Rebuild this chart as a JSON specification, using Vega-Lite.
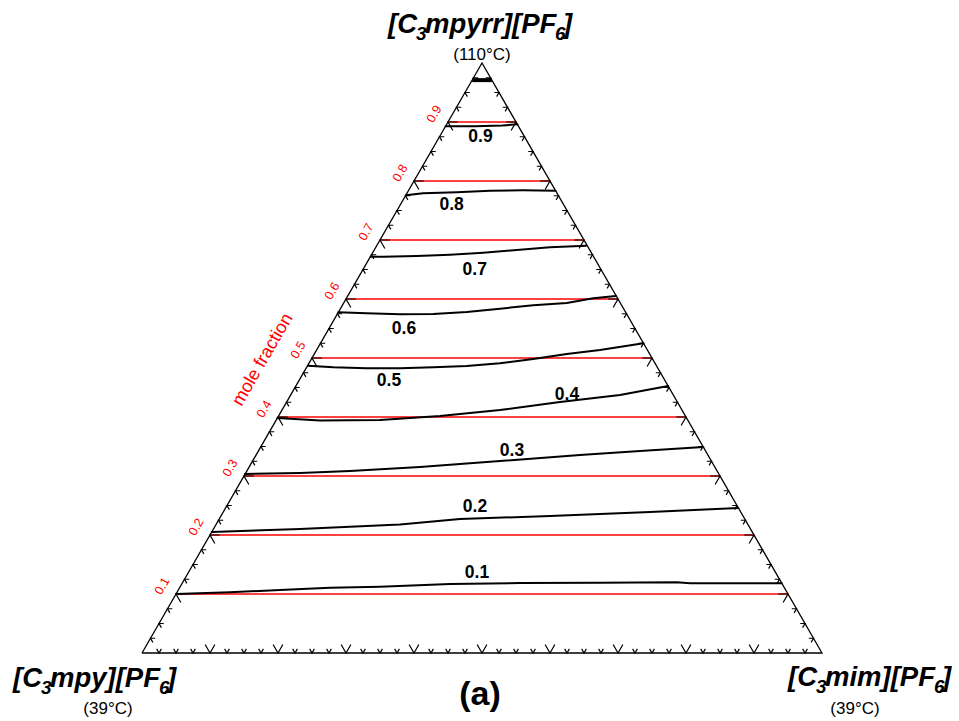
{
  "$schema": "https://vega.github.io/schema/vega-lite/v6.json",
  "width": 680,
  "height": 590,
  "autosize": {"type": "none"},
  "padding": {"left": 142, "top": 63, "right": 137, "bottom": 68},
  "background": "white",
  "config": {"view": {"stroke": null}, "font": "Liberation Sans"},
  "resolve": {"scale": {"size": "independent"}},
  "datasets": {
    "outline": [
      {"i": 0, "x": 0, "f": 0},
      {"i": 1, "x": 1, "f": 0},
      {"i": 2, "x": 0.5, "f": 1},
      {"i": 3, "x": 0, "f": 0}
    ],
    "levels": [
      {"f": 0.1, "xl": 0.05, "xr": 0.95},
      {"f": 0.2, "xl": 0.1, "xr": 0.9},
      {"f": 0.3, "xl": 0.15, "xr": 0.85},
      {"f": 0.4, "xl": 0.2, "xr": 0.8},
      {"f": 0.5, "xl": 0.25, "xr": 0.75},
      {"f": 0.6, "xl": 0.3, "xr": 0.7},
      {"f": 0.7, "xl": 0.35, "xr": 0.65},
      {"f": 0.8, "xl": 0.4, "xr": 0.6},
      {"f": 0.9, "xl": 0.45, "xr": 0.55}
    ],
    "isolines": [
      {"level": "0.1", "i": 0, "x": 0.05, "f": 0.1},
      {"level": "0.1", "i": 1, "x": 0.1294, "f": 0.1029},
      {"level": "0.1", "i": 2, "x": 0.2029, "f": 0.1068},
      {"level": "0.1", "i": 3, "x": 0.2765, "f": 0.1107},
      {"level": "0.1", "i": 4, "x": 0.35, "f": 0.1124},
      {"level": "0.1", "i": 5, "x": 0.4529, "f": 0.117},
      {"level": "0.1", "i": 6, "x": 0.5559, "f": 0.1186},
      {"level": "0.1", "i": 7, "x": 0.6735, "f": 0.1192},
      {"level": "0.1", "i": 8, "x": 0.7863, "f": 0.1198},
      {"level": "0.1", "i": 9, "x": 0.8059, "f": 0.1181},
      {"level": "0.1", "i": 10, "x": 0.9407, "f": 0.1181},
      {"level": "0.2", "i": 0, "x": 0.1025, "f": 0.205},
      {"level": "0.2", "i": 1, "x": 0.2324, "f": 0.2102},
      {"level": "0.2", "i": 2, "x": 0.3794, "f": 0.2178},
      {"level": "0.2", "i": 3, "x": 0.4676, "f": 0.2271},
      {"level": "0.2", "i": 4, "x": 0.6, "f": 0.2322},
      {"level": "0.2", "i": 5, "x": 0.7471, "f": 0.239},
      {"level": "0.2", "i": 6, "x": 0.877, "f": 0.2458},
      {"level": "0.3", "i": 0, "x": 0.1515, "f": 0.3034},
      {"level": "0.3", "i": 1, "x": 0.2324, "f": 0.3051},
      {"level": "0.3", "i": 2, "x": 0.3059, "f": 0.3085},
      {"level": "0.3", "i": 3, "x": 0.4088, "f": 0.3153},
      {"level": "0.3", "i": 4, "x": 0.5265, "f": 0.3254},
      {"level": "0.3", "i": 5, "x": 0.6441, "f": 0.3356},
      {"level": "0.3", "i": 6, "x": 0.7324, "f": 0.3424},
      {"level": "0.3", "i": 7, "x": 0.8254, "f": 0.349},
      {"level": "0.4", "i": 0, "x": 0.1992, "f": 0.3983},
      {"level": "0.4", "i": 1, "x": 0.2618, "f": 0.3941},
      {"level": "0.4", "i": 2, "x": 0.35, "f": 0.3949},
      {"level": "0.4", "i": 3, "x": 0.4382, "f": 0.4017},
      {"level": "0.4", "i": 4, "x": 0.5265, "f": 0.4119},
      {"level": "0.4", "i": 5, "x": 0.6147, "f": 0.4254},
      {"level": "0.4", "i": 6, "x": 0.7029, "f": 0.4373},
      {"level": "0.4", "i": 7, "x": 0.7737, "f": 0.4525},
      {"level": "0.5", "i": 0, "x": 0.2441, "f": 0.4869},
      {"level": "0.5", "i": 1, "x": 0.2813, "f": 0.4842},
      {"level": "0.5", "i": 2, "x": 0.3304, "f": 0.4825},
      {"level": "0.5", "i": 3, "x": 0.3794, "f": 0.4825},
      {"level": "0.5", "i": 4, "x": 0.4284, "f": 0.4842},
      {"level": "0.5", "i": 5, "x": 0.4775, "f": 0.4864},
      {"level": "0.5", "i": 6, "x": 0.5265, "f": 0.491},
      {"level": "0.5", "i": 7, "x": 0.5754, "f": 0.4983},
      {"level": "0.5", "i": 8, "x": 0.6246, "f": 0.5068},
      {"level": "0.5", "i": 9, "x": 0.6735, "f": 0.5136},
      {"level": "0.5", "i": 10, "x": 0.7375, "f": 0.5249},
      {"level": "0.6", "i": 0, "x": 0.2887, "f": 0.5775},
      {"level": "0.6", "i": 1, "x": 0.3304, "f": 0.5758},
      {"level": "0.6", "i": 2, "x": 0.3794, "f": 0.5741},
      {"level": "0.6", "i": 3, "x": 0.4284, "f": 0.5746},
      {"level": "0.6", "i": 4, "x": 0.4775, "f": 0.578},
      {"level": "0.6", "i": 5, "x": 0.5265, "f": 0.5836},
      {"level": "0.6", "i": 6, "x": 0.5754, "f": 0.5893},
      {"level": "0.6", "i": 7, "x": 0.6246, "f": 0.5932},
      {"level": "0.6", "i": 8, "x": 0.6637, "f": 0.6012},
      {"level": "0.6", "i": 9, "x": 0.6971, "f": 0.6051},
      {"level": "0.7", "i": 0, "x": 0.3363, "f": 0.6717},
      {"level": "0.7", "i": 1, "x": 0.3549, "f": 0.6717},
      {"level": "0.7", "i": 2, "x": 0.404, "f": 0.6729},
      {"level": "0.7", "i": 3, "x": 0.4529, "f": 0.6751},
      {"level": "0.7", "i": 4, "x": 0.5019, "f": 0.6785},
      {"level": "0.7", "i": 5, "x": 0.551, "f": 0.6831},
      {"level": "0.7", "i": 6, "x": 0.6, "f": 0.6876},
      {"level": "0.7", "i": 7, "x": 0.6529, "f": 0.6903},
      {"level": "0.8", "i": 0, "x": 0.388, "f": 0.776},
      {"level": "0.8", "i": 1, "x": 0.4132, "f": 0.7792},
      {"level": "0.8", "i": 2, "x": 0.4628, "f": 0.7808},
      {"level": "0.8", "i": 3, "x": 0.5118, "f": 0.7836},
      {"level": "0.8", "i": 4, "x": 0.5603, "f": 0.7842},
      {"level": "0.8", "i": 5, "x": 0.6082, "f": 0.7836},
      {"level": "0.9", "i": 0, "x": 0.4465, "f": 0.893},
      {"level": "0.9", "i": 1, "x": 0.49, "f": 0.893},
      {"level": "0.9", "i": 2, "x": 0.53, "f": 0.894},
      {"level": "0.9", "i": 3, "x": 0.552, "f": 0.896}
    ],
    "cap": [
      {"i": 0, "x": 0.4855, "f": 0.971},
      {"i": 1, "x": 0.5145, "f": 0.971}
    ],
    "isolineLabels": [
      {"label": "0.1", "x": 0.4926, "f": 0.1356},
      {"label": "0.2", "x": 0.4897, "f": 0.2475},
      {"label": "0.3", "x": 0.5441, "f": 0.3424},
      {"label": "0.4", "x": 0.625, "f": 0.4373},
      {"label": "0.5", "x": 0.3632, "f": 0.461},
      {"label": "0.6", "x": 0.3853, "f": 0.5492},
      {"label": "0.7", "x": 0.4893, "f": 0.6492},
      {"label": "0.8", "x": 0.4554, "f": 0.7593},
      {"label": "0.9", "x": 0.4978, "f": 0.8746}
    ],
    "axisLabels": [
      {"label": "0.1", "x": 0.05, "f": 0.1},
      {"label": "0.2", "x": 0.1, "f": 0.2},
      {"label": "0.3", "x": 0.15, "f": 0.3},
      {"label": "0.4", "x": 0.2, "f": 0.4},
      {"label": "0.5", "x": 0.25, "f": 0.5},
      {"label": "0.6", "x": 0.3, "f": 0.6},
      {"label": "0.7", "x": 0.35, "f": 0.7},
      {"label": "0.8", "x": 0.4, "f": 0.8},
      {"label": "0.9", "x": 0.45, "f": 0.9}
    ],
    "axisTitle": [
      {"title": "mole fraction", "x": 0.178, "f": 0.497}
    ],
    "vertexNames": [
      {"t": "[C", "p": "main", "x": 0.36176, "f": 1.05085},
      {"t": "3", "p": "sub", "x": 0.40294, "f": 1.03898},
      {"t": "mpyrr][PF", "p": "main", "x": 0.41618, "f": 1.05085},
      {"t": "6", "p": "sub", "x": 0.60735, "f": 1.03898},
      {"t": "]", "p": "main", "x": 0.61912, "f": 1.05085},
      {"t": "[C", "p": "main", "x": -0.18971, "f": -0.05763},
      {"t": "3", "p": "sub", "x": -0.14853, "f": -0.06949},
      {"t": "mpy][PF", "p": "main", "x": -0.13529, "f": -0.05763},
      {"t": "6", "p": "sub", "x": 0.025, "f": -0.06949},
      {"t": "]", "p": "main", "x": 0.03676, "f": -0.05763},
      {"t": "[C", "p": "main", "x": 0.95, "f": -0.05593},
      {"t": "3", "p": "sub", "x": 0.99118, "f": -0.0678},
      {"t": "mim][PF", "p": "main", "x": 1.00441, "f": -0.05593},
      {"t": "6", "p": "sub", "x": 1.16471, "f": -0.0678},
      {"t": "]", "p": "main", "x": 1.17647, "f": -0.05593}
    ],
    "meltingPoints": [
      {"temp": "(110°C)", "x": 0.5, "f": 1.005},
      {"temp": "(39°C)", "x": -0.05, "f": -0.1034},
      {"temp": "(39°C)", "x": 1.0485, "f": -0.1034}
    ],
    "panel": [
      {"panel": "(a)", "x": 0.497, "f": -0.0881}
    ],
    "ticks": [
      {"e": "bottom", "k": "minor", "x": 0.025, "f": 0},
      {"e": "bottom", "k": "minor", "x": 0.05, "f": 0},
      {"e": "bottom", "k": "minor", "x": 0.075, "f": 0},
      {"e": "bottom", "k": "major", "x": 0.1, "f": 0},
      {"e": "bottom", "k": "minor", "x": 0.125, "f": 0},
      {"e": "bottom", "k": "minor", "x": 0.15, "f": 0},
      {"e": "bottom", "k": "minor", "x": 0.175, "f": 0},
      {"e": "bottom", "k": "major", "x": 0.2, "f": 0},
      {"e": "bottom", "k": "minor", "x": 0.225, "f": 0},
      {"e": "bottom", "k": "minor", "x": 0.25, "f": 0},
      {"e": "bottom", "k": "minor", "x": 0.275, "f": 0},
      {"e": "bottom", "k": "major", "x": 0.3, "f": 0},
      {"e": "bottom", "k": "minor", "x": 0.325, "f": 0},
      {"e": "bottom", "k": "minor", "x": 0.35, "f": 0},
      {"e": "bottom", "k": "minor", "x": 0.375, "f": 0},
      {"e": "bottom", "k": "major", "x": 0.4, "f": 0},
      {"e": "bottom", "k": "minor", "x": 0.425, "f": 0},
      {"e": "bottom", "k": "minor", "x": 0.45, "f": 0},
      {"e": "bottom", "k": "minor", "x": 0.475, "f": 0},
      {"e": "bottom", "k": "major", "x": 0.5, "f": 0},
      {"e": "bottom", "k": "minor", "x": 0.525, "f": 0},
      {"e": "bottom", "k": "minor", "x": 0.55, "f": 0},
      {"e": "bottom", "k": "minor", "x": 0.575, "f": 0},
      {"e": "bottom", "k": "major", "x": 0.6, "f": 0},
      {"e": "bottom", "k": "minor", "x": 0.625, "f": 0},
      {"e": "bottom", "k": "minor", "x": 0.65, "f": 0},
      {"e": "bottom", "k": "minor", "x": 0.675, "f": 0},
      {"e": "bottom", "k": "major", "x": 0.7, "f": 0},
      {"e": "bottom", "k": "minor", "x": 0.725, "f": 0},
      {"e": "bottom", "k": "minor", "x": 0.75, "f": 0},
      {"e": "bottom", "k": "minor", "x": 0.775, "f": 0},
      {"e": "bottom", "k": "major", "x": 0.8, "f": 0},
      {"e": "bottom", "k": "minor", "x": 0.825, "f": 0},
      {"e": "bottom", "k": "minor", "x": 0.85, "f": 0},
      {"e": "bottom", "k": "minor", "x": 0.875, "f": 0},
      {"e": "bottom", "k": "major", "x": 0.9, "f": 0},
      {"e": "bottom", "k": "minor", "x": 0.925, "f": 0},
      {"e": "bottom", "k": "minor", "x": 0.95, "f": 0},
      {"e": "bottom", "k": "minor", "x": 0.975, "f": 0},
      {"e": "left", "k": "minor", "x": 0.0125, "f": 0.025},
      {"e": "left", "k": "minor", "x": 0.025, "f": 0.05},
      {"e": "left", "k": "minor", "x": 0.0375, "f": 0.075},
      {"e": "left", "k": "major", "x": 0.05, "f": 0.1},
      {"e": "left", "k": "minor", "x": 0.0625, "f": 0.125},
      {"e": "left", "k": "minor", "x": 0.075, "f": 0.15},
      {"e": "left", "k": "minor", "x": 0.0875, "f": 0.175},
      {"e": "left", "k": "major", "x": 0.1, "f": 0.2},
      {"e": "left", "k": "minor", "x": 0.1125, "f": 0.225},
      {"e": "left", "k": "minor", "x": 0.125, "f": 0.25},
      {"e": "left", "k": "minor", "x": 0.1375, "f": 0.275},
      {"e": "left", "k": "major", "x": 0.15, "f": 0.3},
      {"e": "left", "k": "minor", "x": 0.1625, "f": 0.325},
      {"e": "left", "k": "minor", "x": 0.175, "f": 0.35},
      {"e": "left", "k": "minor", "x": 0.1875, "f": 0.375},
      {"e": "left", "k": "major", "x": 0.2, "f": 0.4},
      {"e": "left", "k": "minor", "x": 0.2125, "f": 0.425},
      {"e": "left", "k": "minor", "x": 0.225, "f": 0.45},
      {"e": "left", "k": "minor", "x": 0.2375, "f": 0.475},
      {"e": "left", "k": "major", "x": 0.25, "f": 0.5},
      {"e": "left", "k": "minor", "x": 0.2625, "f": 0.525},
      {"e": "left", "k": "minor", "x": 0.275, "f": 0.55},
      {"e": "left", "k": "minor", "x": 0.2875, "f": 0.575},
      {"e": "left", "k": "major", "x": 0.3, "f": 0.6},
      {"e": "left", "k": "minor", "x": 0.3125, "f": 0.625},
      {"e": "left", "k": "minor", "x": 0.325, "f": 0.65},
      {"e": "left", "k": "minor", "x": 0.3375, "f": 0.675},
      {"e": "left", "k": "major", "x": 0.35, "f": 0.7},
      {"e": "left", "k": "minor", "x": 0.3625, "f": 0.725},
      {"e": "left", "k": "minor", "x": 0.375, "f": 0.75},
      {"e": "left", "k": "minor", "x": 0.3875, "f": 0.775},
      {"e": "left", "k": "major", "x": 0.4, "f": 0.8},
      {"e": "left", "k": "minor", "x": 0.4125, "f": 0.825},
      {"e": "left", "k": "minor", "x": 0.425, "f": 0.85},
      {"e": "left", "k": "minor", "x": 0.4375, "f": 0.875},
      {"e": "left", "k": "major", "x": 0.45, "f": 0.9},
      {"e": "left", "k": "minor", "x": 0.4625, "f": 0.925},
      {"e": "left", "k": "minor", "x": 0.475, "f": 0.95},
      {"e": "left", "k": "minor", "x": 0.4875, "f": 0.975},
      {"e": "right", "k": "minor", "x": 0.9875, "f": 0.025},
      {"e": "right", "k": "minor", "x": 0.975, "f": 0.05},
      {"e": "right", "k": "minor", "x": 0.9625, "f": 0.075},
      {"e": "right", "k": "major", "x": 0.95, "f": 0.1},
      {"e": "right", "k": "minor", "x": 0.9375, "f": 0.125},
      {"e": "right", "k": "minor", "x": 0.925, "f": 0.15},
      {"e": "right", "k": "minor", "x": 0.9125, "f": 0.175},
      {"e": "right", "k": "major", "x": 0.9, "f": 0.2},
      {"e": "right", "k": "minor", "x": 0.8875, "f": 0.225},
      {"e": "right", "k": "minor", "x": 0.875, "f": 0.25},
      {"e": "right", "k": "minor", "x": 0.8625, "f": 0.275},
      {"e": "right", "k": "major", "x": 0.85, "f": 0.3},
      {"e": "right", "k": "minor", "x": 0.8375, "f": 0.325},
      {"e": "right", "k": "minor", "x": 0.825, "f": 0.35},
      {"e": "right", "k": "minor", "x": 0.8125, "f": 0.375},
      {"e": "right", "k": "major", "x": 0.8, "f": 0.4},
      {"e": "right", "k": "minor", "x": 0.7875, "f": 0.425},
      {"e": "right", "k": "minor", "x": 0.775, "f": 0.45},
      {"e": "right", "k": "minor", "x": 0.7625, "f": 0.475},
      {"e": "right", "k": "major", "x": 0.75, "f": 0.5},
      {"e": "right", "k": "minor", "x": 0.7375, "f": 0.525},
      {"e": "right", "k": "minor", "x": 0.725, "f": 0.55},
      {"e": "right", "k": "minor", "x": 0.7125, "f": 0.575},
      {"e": "right", "k": "major", "x": 0.7, "f": 0.6},
      {"e": "right", "k": "minor", "x": 0.6875, "f": 0.625},
      {"e": "right", "k": "minor", "x": 0.675, "f": 0.65},
      {"e": "right", "k": "minor", "x": 0.6625, "f": 0.675},
      {"e": "right", "k": "major", "x": 0.65, "f": 0.7},
      {"e": "right", "k": "minor", "x": 0.6375, "f": 0.725},
      {"e": "right", "k": "minor", "x": 0.625, "f": 0.75},
      {"e": "right", "k": "minor", "x": 0.6125, "f": 0.775},
      {"e": "right", "k": "major", "x": 0.6, "f": 0.8},
      {"e": "right", "k": "minor", "x": 0.5875, "f": 0.825},
      {"e": "right", "k": "minor", "x": 0.575, "f": 0.85},
      {"e": "right", "k": "minor", "x": 0.5625, "f": 0.875},
      {"e": "right", "k": "major", "x": 0.55, "f": 0.9},
      {"e": "right", "k": "minor", "x": 0.5375, "f": 0.925},
      {"e": "right", "k": "minor", "x": 0.525, "f": 0.95},
      {"e": "right", "k": "minor", "x": 0.5125, "f": 0.975}
    ]
  },
  "encoding": {
    "x": {"field": "x", "type": "quantitative", "axis": null, "scale": {"domain": [0, 1], "nice": false, "zero": false}},
    "y": {"field": "f", "type": "quantitative", "axis": null, "scale": {"domain": [0, 1], "nice": false, "zero": false}}
  },
  "layer": [
    {
      "data": {"name": "levels"},
      "mark": {"type": "rule", "color": "#ff0000", "strokeWidth": 1.6},
      "encoding": {
        "x": {"field": "xl", "type": "quantitative"},
        "x2": {"field": "xr"}
      }
    },
    {
      "data": {"name": "outline"},
      "mark": {"type": "line", "color": "black", "strokeWidth": 1.3, "strokeJoin": "miter"},
      "encoding": {"order": {"field": "i", "type": "quantitative"}}
    },
    {
      "data": {"name": "ticks"},
      "mark": {"type": "point", "filled": false, "stroke": "black", "strokeWidth": 1.2, "opacity": 1},
      "encoding": {
        "shape": {
          "field": "e", "type": "nominal", "legend": null,
          "scale": {
            "domain": ["bottom", "left", "right"],
            "range": ["M-0.5,-0.866L0,0L0.5,-0.866", "M1,0L0,0L0.5,0.866", "M-1,0L0,0L-0.5,0.866"]
          }
        },
        "size": {
          "field": "k", "type": "nominal", "legend": null,
          "scale": {"domain": ["minor", "major"], "range": [90, 380]}
        }
      }
    },
    {
      "data": {"name": "isolines"},
      "mark": {"type": "line", "color": "black", "strokeWidth": 2, "strokeCap": "round", "strokeJoin": "round"},
      "encoding": {
        "detail": {"field": "level", "type": "nominal"},
        "order": {"field": "i", "type": "quantitative"}
      }
    },
    {
      "data": {"name": "cap"},
      "mark": {"type": "line", "color": "black", "strokeWidth": 4},
      "encoding": {"order": {"field": "i", "type": "quantitative"}}
    },
    {
      "data": {"name": "isolineLabels"},
      "mark": {"type": "text", "fontSize": 17.5, "fontWeight": "bold", "color": "black", "align": "center", "baseline": "middle"},
      "encoding": {"text": {"field": "label", "type": "nominal"}}
    },
    {
      "data": {"name": "axisLabels"},
      "mark": {"type": "text", "fontSize": 12.5, "color": "#ff0000", "align": "center", "baseline": "middle", "angle": -60, "dy": -16},
      "encoding": {"text": {"field": "label", "type": "nominal"}}
    },
    {
      "data": {"name": "axisTitle"},
      "mark": {"type": "text", "fontSize": 18, "color": "#ff0000", "align": "center", "baseline": "middle", "angle": -60},
      "encoding": {"text": {"field": "title", "type": "nominal"}}
    },
    {
      "data": {"name": "vertexNames"},
      "mark": {"type": "text", "fontWeight": "bold", "fontStyle": "italic", "color": "black", "align": "left", "baseline": "alphabetic"},
      "encoding": {
        "text": {"field": "t", "type": "nominal"},
        "size": {"field": "p", "type": "nominal", "legend": null, "scale": {"domain": ["main", "sub"], "range": [27.5, 19]}}
      }
    },
    {
      "data": {"name": "meltingPoints"},
      "mark": {"type": "text", "fontSize": 17, "color": "black", "align": "center", "baseline": "alphabetic"},
      "encoding": {"text": {"field": "temp", "type": "nominal"}}
    },
    {
      "data": {"name": "panel"},
      "mark": {"type": "text", "fontSize": 34, "fontWeight": "bold", "color": "black", "align": "center", "baseline": "alphabetic"},
      "encoding": {"text": {"field": "panel", "type": "nominal"}}
    }
  ]
}
